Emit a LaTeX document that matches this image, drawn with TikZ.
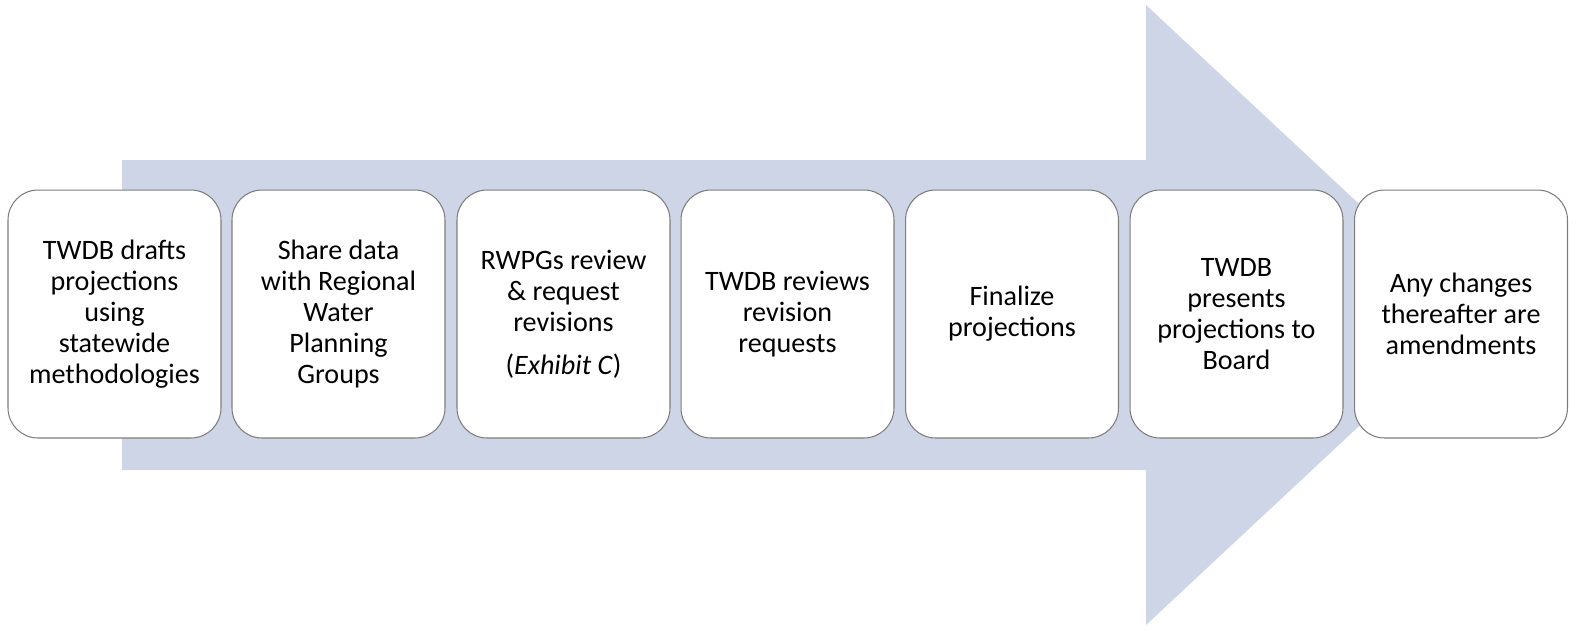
\documentclass[tikz,border=0pt]{standalone}
\usepackage{fontspec}
\setmainfont{Carlito}
\usepackage{tikz}
\usepackage{color}
\definecolor{arrowblue}{RGB}{206, 213, 230}
\definecolor{boxgrey}{RGB}{125, 125, 125}

\tikzset{
  stepbox/.style={draw=boxgrey,fill=white,line width=0.6pt,rounded corners=0.6cm,minimum width=4.26cm,minimum height=4.96cm,inner sep=0pt,align=center,font=\fontsize{16}{17.6}\selectfont}
}

\begin{document}
\begin{tikzpicture}[x=0.02cm,y=-0.02cm]
        \useasboundingbox (0,0) rectangle (1579,630);

        \coordinate (a1) at (122,160);
        \coordinate (a2) at (1146,160);
        \coordinate (a3) at (1146,5);
        \coordinate (tip) at (1478,315);
        \coordinate (a5) at (1146,625);
        \coordinate (a6) at (1146,470);
        \coordinate (a7) at (122,470);

        % big arrow behind the steps
        \fill[arrowblue] (a1) -- (a2) -- (a3) -- (tip) -- (a5) -- (a6) -- (a7) -- cycle;

        \node[stepbox] (s1) at (114.5,314){TWDB drafts\\projections\\using\\statewide\\methodologies};
        \node[stepbox] (s2) at (338.5,314){Share data\\with Regional\\Water\\Planning\\Groups};
        \node[stepbox] (s3) at (563.5,314){RWPGs review\\\& request\\revisions\\[0.24cm](\textit{Exhibit C})};
        \node[stepbox] (s4) at (787.5,314){TWDB reviews\\revision\\requests};
        \node[stepbox] (s5) at (1012,314){Finalize\\projections};
        \node[stepbox] (s6) at (1236.5,314){TWDB\\presents\\projections to\\Board};
        \node[stepbox] (s7) at (1461,314){Any changes\\thereafter are\\amendments};
    \end{tikzpicture}
\end{document}
